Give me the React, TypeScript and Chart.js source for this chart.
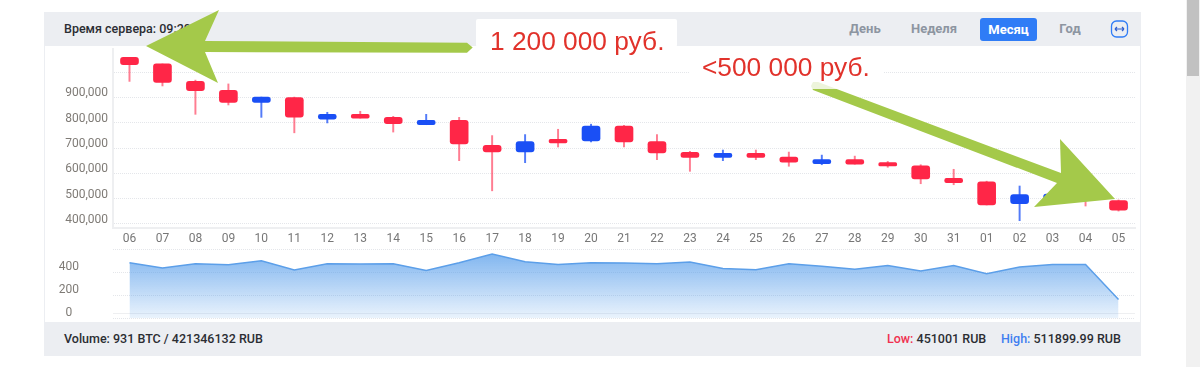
import React, { useEffect, useRef } from "react";
import { Chart, registerables } from "chart.js";

Chart.register(...registerables);

const days = ["06","07","08","09","10","11","12","13","14","15","16","17","18","19","20","21","22","23","24","25","26","27","28","29","30","31","01","02","03","04","05"];
const bodyTop = [1058000,1032000,963000,928000,901000,899000,833000,833000,821000,809000,809000,711000,725000,734000,787000,787000,725000,683000,679000,679000,664000,654000,654000,642000,630000,580000,566000,516000,518000,510000,492000];
const bodyBottom = [1029000,959000,926000,880000,880000,822000,814000,818000,796000,792000,716000,685000,685000,720000,728000,724000,681000,663000,663000,663000,644000,638000,636000,629000,578000,563000,475000,480000,495000,495000,455000];
const wickHigh = [1058000,1032000,968000,953000,901000,901000,841000,845000,825000,833000,821000,749000,753000,774000,794000,790000,753000,687000,692000,692000,684000,672000,668000,647000,634000,616000,569000,550000,521000,515000,495000];
const wickLow = [963000,945000,833000,870000,821000,760000,799000,818000,763000,792000,650000,531000,642000,704000,724000,704000,654000,608000,650000,654000,628000,634000,636000,624000,559000,555000,475000,413000,480000,471000,451000];
const isBlue = [0,0,0,0,1,0,1,0,0,1,0,0,1,0,1,0,0,0,1,0,0,1,0,0,0,0,0,1,1,0,0];
const volume = [481,434,472,463,498,417,472,469,472,414,481,556,489,466,481,478,472,486,431,419,472,449,425,457,408,457,385,443,466,466,160];
const priceTicks = [400000,500000,600000,700000,800000,900000,1000000];
const priceTickLabels = ["400,000","500,000","600,000","700,000","800,000","900,000",""];
const volumeTicks = [0,38,200,400,600];
const volumeTickLabels = ["0","","200","400",""];

const RED = "#FF2647";
const BLUE = "#1A4FF5";
const GRID = "#E4E6EA";
const LABEL = "#7F7B76";

const fitY = (s: any) => {
  s.width = 69;
  s.paddingTop = 0;
  s.paddingBottom = 0;
};

function useCharts(priceRef: any, volRef: any) {
  useEffect(() => {
    const price = new Chart(priceRef.current, {
      type: "bar",
      data: {
        labels: days,
        datasets: [
          {
            data: wickLow.map((l, i) => [l, wickHigh[i]]),
            backgroundColor: isBlue.map((b) => (b ? "rgba(26,79,245,0.75)" : "rgba(255,38,71,0.6)")),
            barThickness: 1.3,
            grouped: false,
            order: 2,
          },
          {
            data: bodyBottom.map((l, i) => [l, bodyTop[i]]),
            backgroundColor: isBlue.map((b) => (b ? BLUE : RED)),
            barThickness: 18,
            borderRadius: 3,
            borderSkipped: false,
            grouped: false,
            order: 1,
          },
        ],
      } as any,
      options: {
        responsive: false,
        animation: false,
        layout: { padding: { top: 3, right: 6, left: 0, bottom: 0 } },
        plugins: { legend: { display: false }, tooltip: { enabled: false } },
        scales: {
          x: {
            offset: true,
            grid: { display: false, drawTicks: false },
            border: { display: true, color: "#EEEFF1", width: 2 },
            ticks: { color: "#777777", font: { family: "Roboto", size: 12 }, padding: 4, maxRotation: 0, autoSkip: false },
            afterFit: (s: any) => {
              s.height = 18;
              s.paddingLeft = 0;
              s.paddingRight = 0;
            },
          },
          y: {
            min: 384200,
            max: 1090900,
            afterBuildTicks: (s: any) => { s.ticks = priceTicks.map((value) => ({ value })); },
            afterFit: fitY,
            grid: { color: GRID, drawTicks: false },
            border: { display: true, color: "#EEEFF1", width: 2, dash: [1, 1] },
            ticks: {
              color: LABEL,
              font: { family: "Roboto", size: 12 },
              padding: 5,
              labelOffset: -4,
              autoSkip: false,
              callback: (v: any) => priceTickLabels[priceTicks.indexOf(v)] ?? "",
            },
          },
        },
      } as any,
    });

    const vol = new Chart(volRef.current, {
      type: "line",
      data: {
        labels: days,
        datasets: [
          {
            data: volume,
            borderColor: "#5C9FE9",
            borderWidth: 1.5,
            pointRadius: 0,
            tension: 0,
            fill: "origin",
            backgroundColor: (ctx: any) => {
              const area = ctx.chart.chartArea;
              if (!area) return "rgba(90,160,235,0.5)";
              const g = ctx.chart.ctx.createLinearGradient(0, area.top, 0, area.bottom);
              g.addColorStop(0, "rgba(84,156,234,0.78)");
              g.addColorStop(1, "rgba(84,156,234,0.12)");
              return g;
            },
          },
        ],
      } as any,
      options: {
        responsive: false,
        animation: false,
        layout: { padding: { top: 3, right: 6, left: 0, bottom: 4 } },
        plugins: { legend: { display: false }, tooltip: { enabled: false } },
        scales: {
          x: { display: false, offset: true, grid: { display: false } },
          y: {
            min: 0,
            max: 600,
            afterBuildTicks: (s: any) => { s.ticks = volumeTicks.map((value) => ({ value })); },
            afterFit: fitY,
            grid: { color: (c: any) => (c.tick && c.tick.value === 38 ? "#EEEFF1" : GRID), drawTicks: false },
            border: {
              display: false,
              dash: (c: any) => (c.tick && c.tick.value === 38 ? [] : [1, 1]),
            },
            ticks: {
              color: LABEL,
              font: { family: "Roboto", size: 12 },
              padding: 34,
              crossAlign: "center",
              labelOffset: -5,
              autoSkip: false,
              callback: (v: any) => volumeTickLabels[volumeTicks.indexOf(v)] ?? "",
            },
          },
        },
      } as any,
    });
    return () => {
      price.destroy();
      vol.destroy();
    };
  }, []);
}

const abs = (o: any): any => ({ position: "absolute", ...o });
const tab = (left: number, width: number, text: string) => (
  <div style={abs({ left, width, top: 21, textAlign: "center", font: "700 13px/16px Roboto", color: "#8D95A1" })}>{text}</div>
);

export default function App() {
  const priceRef = useRef<HTMLCanvasElement>(null);
  const volRef = useRef<HTMLCanvasElement>(null);
  useCharts(priceRef, volRef);
  const barText = { font: "500 12.5px/16px Roboto", color: "#2B2D33" };
  const note = { font: "26.3px/30px 'Liberation Sans'", color: "#E1322B", whiteSpace: "pre" };
  return (
    <div style={abs({ left: 0, top: 0, width: 1200, height: 367, overflow: "hidden", background: "#fff" })}>
      <div style={abs({ left: 1186, top: 0, width: 14, height: 367, background: "#F1F1F1" })} />
      <div style={abs({ left: 1187, top: 0, width: 12, height: 76, background: "#C1C1C1" })} />

      <div style={abs({ left: 44, top: 12, width: 1097, height: 344, background: "#fff", boxSizing: "border-box", borderLeft: "1px solid #ECEEF2", borderRight: "1px solid #ECEEF2" })} />
      <div style={abs({ left: 44, top: 12, width: 1097, height: 34, background: "#ECEEF2" })} />
      <div style={abs({ left: 44, top: 322, width: 1097, height: 34, background: "#ECEEF2" })} />

      <div style={abs({ left: 64, top: 21, ...barText })}>Время сервера: 09:20</div>
      {tab(840, 50, "День")}
      {tab(904, 60, "Неделя")}
      <div style={abs({ left: 980, top: 18, width: 57, height: 23, borderRadius: 3, background: "#2F7CF6", textAlign: "center", font: "700 13px/23px Roboto", color: "#fff" })}>Месяц</div>
      {tab(1045, 50, "Год")}
      <svg style={abs({ left: 1110, top: 20 })} width="19" height="18" viewBox="0 0 19 18">
        <rect x="1.5" y="1" width="16" height="16" rx="5" fill="none" stroke="#2F7CF6" strokeWidth="1.3" />
        <path d="M5 9H14M5 9l2-2M5 9l2 2M14 9l-2-2M14 9l-2 2" fill="none" stroke="#2F5FD0" strokeWidth="1.2" />
      </svg>

      <canvas ref={priceRef} width={1097} height={200} style={abs({ left: 44, top: 46 })} />
      <canvas ref={volRef} width={1097} height={76} style={abs({ left: 44, top: 246 })} />

      <div style={abs({ left: 64, top: 331, ...barText })}>Volume: 931 BTC / 421346132 RUB</div>
      <div style={abs({ left: 887, top: 331, ...barText, whiteSpace: "pre" })}>
        <span style={{ color: "#F0304F" }}>Low:</span> 451001 RUB
      </div>
      <div style={abs({ left: 1001, top: 331, ...barText, whiteSpace: "pre" })}>
        <span style={{ color: "#3F7FF0" }}>High:</span> 511899.99 RUB
      </div>

      <svg style={abs({ left: 0, top: 0 })} width="1200" height="367">
        <polygon fill="#A4C94A" points="146,46 219,10 205,41 467,42.7 472.7,47.5 467,52.7 205,52 218,83" />
        <rect x="476" y="19" width="201" height="28" rx="2" fill="#fff" />
        <polygon fill="#A4C94A" points="813,82 818,82 1061,173 1060,139 1115,199 1034,207 1057,183 813,90 811,86" />
        <rect x="690" y="46" width="193" height="30" fill="#fff" />
        <rect x="690" y="76" width="193" height="13" fill="#fff" fillOpacity="0.8" />
      </svg>
      <div style={abs({ left: 490, top: 26, ...note })}>1 200 000 руб.</div>
      <div style={abs({ left: 702, top: 52, ...note })}>{"<500 000 руб."}</div>
    </div>
  );
}
